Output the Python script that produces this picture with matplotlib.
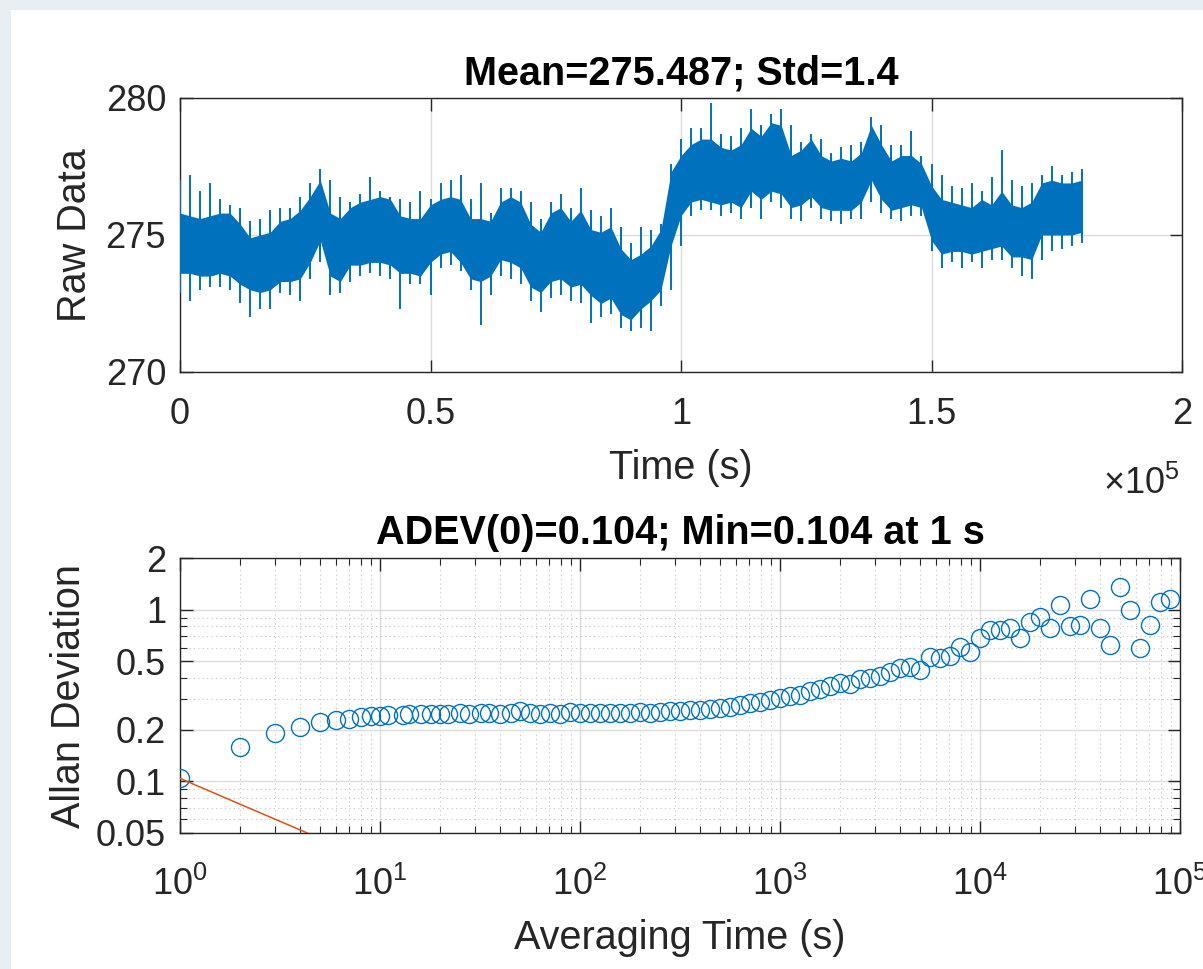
import matplotlib
matplotlib.use("Agg")
import matplotlib.pyplot as plt
import numpy as np
from matplotlib.patches import Rectangle
from matplotlib.ticker import FixedLocator, FixedFormatter, NullFormatter

plt.rcParams['font.family'] = ['Liberation Sans', 'DejaVu Sans']
plt.rcParams['mathtext.fontset'] = 'custom'
plt.rcParams['mathtext.rm'] = 'Liberation Sans'
plt.rcParams['mathtext.it'] = 'Liberation Sans:italic'
plt.rcParams['mathtext.bf'] = 'Liberation Sans:bold'

# ---------------- data: raw time series envelope (sampled every 2000 s) ----------------
time_ks = list(range(0, 182, 2))  # kiloseconds
core_hi = [275.8, 275.7, 275.6, 275.7, 275.8, 275.8, 275.4, 274.9, 275.0, 275.1, 275.5, 275.6,
           275.9, 276.4, 277.0, 275.8, 275.6, 276.0, 276.2, 276.3, 276.4, 276.3, 275.7,
           275.6, 275.6, 276.1, 276.3, 276.4, 276.3, 275.6, 275.6, 275.5, 276.2, 276.4, 276.2,
           275.4, 275.1, 275.8, 276.0, 275.5, 275.9, 275.2, 275.1, 275.3, 274.5, 274.1,
           274.3, 274.6, 275.2, 277.3, 277.9, 278.3, 278.5, 278.5, 278.2, 278.1, 278.3, 278.9,
           278.6, 279.1, 279.0, 277.9, 278.1, 278.5, 277.9, 277.7, 277.8, 277.7,
           278.0, 279.0, 278.3, 277.7, 277.9, 277.9, 277.6, 276.8, 276.3, 276.2, 276.1, 276.0,
           276.3, 276.1, 276.6, 276.1, 276.0, 276.2, 276.9, 277.0, 276.9, 276.9, 277.0]
core_lo = [273.6, 273.6, 273.5, 273.5, 273.6, 273.5, 273.2, 273.0, 272.9, 273.0, 273.3, 273.3,
           273.4, 274.0, 274.8, 273.5, 273.3, 273.9, 273.9, 274.0, 274.0, 273.9, 273.6,
           273.6, 273.5, 274.0, 274.3, 274.4, 274.0, 273.4, 273.3, 273.5, 274.1, 274.0, 273.8,
           273.1, 272.9, 273.3, 273.4, 273.1, 273.2, 272.8, 272.5, 272.7, 272.1, 271.9,
           272.3, 272.6, 273.0, 274.6, 275.7, 276.2, 276.3, 276.2, 276.1, 276.2, 276.0, 276.6,
           276.3, 276.6, 276.5, 276.0, 276.1, 276.4, 276.0, 275.9, 275.9, 275.9,
           276.2, 277.0, 276.3, 275.9, 276.0, 276.1, 276.0, 274.8, 274.3, 274.4, 274.4, 274.3,
           274.4, 274.5, 274.6, 274.2, 274.2, 274.1, 275.0, 275.0, 275.0, 275.0, 275.1]
spike_hi = [277.0, 277.2, 276.6, 276.9, 276.3, 276.1, 276.0, 275.5, 275.6, 275.9, 276.0, 276.0,
            276.4, 276.9, 277.4, 276.0, 276.4, 276.2, 276.5, 277.1, 276.6, 276.4, 276.0,
            276.2, 276.6, 276.3, 276.9, 277.0, 277.2, 276.0, 276.9, 275.8, 276.7, 276.7, 276.6,
            275.9, 275.6, 276.2, 276.5, 275.9, 276.7, 275.6, 275.7, 276.0, 275.3, 274.7,
            275.3, 275.2, 275.4, 277.6, 278.5, 278.9, 278.9, 279.8, 278.7, 278.6, 278.9, 279.6,
            279.0, 279.4, 279.6, 278.5, 278.4, 278.7, 278.3, 278.0, 278.2, 278.3,
            278.4, 279.3, 278.5, 278.0, 278.3, 278.8, 277.9, 277.3, 277.2, 276.8, 276.7, 276.9,
            276.6, 277.1, 278.1, 277.0, 276.8, 276.9, 277.2, 277.5, 277.2, 277.3, 277.4]
spike_lo = [272.9, 272.6, 273.0, 273.1, 273.1, 273.0, 272.5, 272.0, 272.3, 272.3, 272.9, 272.8,
            272.6, 273.5, 274.2, 272.8, 272.9, 273.4, 273.5, 273.6, 273.5, 273.4, 272.3,
            273.2, 273.2, 272.8, 273.8, 273.9, 273.7, 273.0, 271.7, 272.8, 273.6, 273.4, 273.2,
            272.6, 272.2, 272.7, 272.8, 272.6, 272.5, 271.8, 272.0, 272.1, 271.6, 271.5,
            271.6, 271.5, 272.4, 274.0, 275.3, 275.8, 275.9, 275.9, 275.7, 275.8, 275.6, 276.1,
            275.6, 276.2, 276.0, 275.6, 275.5, 276.0, 275.6, 275.5, 275.4, 275.6,
            275.6, 276.3, 275.8, 275.6, 275.5, 275.7, 275.7, 274.4, 273.8, 274.0, 273.8, 274.0,
            273.8, 274.1, 274.1, 273.8, 273.5, 273.4, 274.6, 274.4, 274.5, 274.6, 274.7]

# ---------------- data: Allan deviation ----------------
tau = [1, 2, 3, 4, 5, 6, 7, 8, 9, 10,
       11, 13, 14, 16, 18, 20, 22, 25, 28, 32, 35, 40, 45, 50, 56, 63, 71, 79, 89, 100,
       112, 126, 141, 158, 178, 200, 224, 251, 282, 316, 355, 398, 447, 501, 562, 631, 708, 794, 891, 1000,
       1122, 1259, 1413, 1585, 1778, 1995, 2239, 2512, 2818, 3162, 3548, 3981, 4467, 5012, 5623, 6310,
       7079, 7943, 8913, 10000,
       11220, 12589, 14125, 15849, 17783, 19953, 22387, 25119, 28184, 31623, 35481, 39811, 44668,
       50119, 56234, 63096, 70795, 79433, 89125]
adev = [0.104, 0.158, 0.192, 0.206, 0.221, 0.227, 0.231, 0.236, 0.239, 0.241,
        0.243, 0.244, 0.246, 0.247, 0.247, 0.248, 0.248, 0.249, 0.248, 0.249, 0.249, 0.248, 0.249,
        0.256, 0.249, 0.248, 0.249, 0.247, 0.254, 0.250,
        0.249, 0.249, 0.250, 0.250, 0.251, 0.252, 0.251, 0.254, 0.256, 0.256, 0.262, 0.262, 0.265,
        0.268, 0.272, 0.279, 0.286, 0.291, 0.297, 0.304,
        0.315, 0.320, 0.335, 0.345, 0.360, 0.375, 0.370, 0.395, 0.400, 0.410, 0.435, 0.455, 0.465,
        0.445, 0.530, 0.520, 0.535, 0.610, 0.570, 0.680,
        0.760, 0.760, 0.780, 0.680, 0.850, 0.910, 0.780, 1.060, 0.800, 0.810, 1.160, 0.780, 0.620,
        1.360, 1.000, 0.600, 0.810, 1.110, 1.160]
adev0 = 0.104

title_top = "Mean=275.487; Std=1.4"
title_bot = "ADEV(0)=0.104; Min=0.104 at 1 s"

BLUE = '#0072BD'
ORANGE = '#D95319'
AXC = '#262626'
GRIDC = '#DCDCDC'

W, H = 1203, 969
fig = plt.figure(figsize=(W / 100, H / 100), dpi=100)
fig.patch.set_facecolor('#E9EEF5')
fig.patches.append(Rectangle((11 / W, 0), 1 - 11 / W, 1 - 10 / H, transform=fig.transFigure,
                             facecolor='white', edgecolor='none', zorder=-10))

TICK_FS = 26
LAB_FS = 28.5


def style_axes(ax):
    for s in ax.spines.values():
        s.set_color(AXC)
        s.set_linewidth(1.0)
    ax.tick_params(which='both', direction='in', top=True, right=True, colors=AXC,
                   labelsize=TICK_FS, labelcolor=AXC)
    ax.tick_params(which='major', length=9, width=1.0)
    ax.tick_params(which='minor', length=5, width=0.8)


# ---------------- top axes ----------------
ax1 = fig.add_axes([180 / W, 1 - 372 / H, 1002 / W, 274 / H])
t_s = np.array(time_ks) * 1000.0
ax1.fill_between(t_s, core_lo, core_hi, color=BLUE, lw=0, zorder=3)
ax1.vlines(t_s, spike_lo, spike_hi, color=BLUE, lw=1.4, zorder=3)
ax1.vlines(t_s[1:], core_lo[:-1], core_hi[:-1], color=BLUE, lw=1.4, zorder=3)
ax1.set_xlim(0, 2e5)
ax1.set_ylim(270, 280)
ax1.set_xticks([0, 0.5e5, 1e5, 1.5e5, 2e5])
ax1.set_xticklabels(['0', '0.5', '1', '1.5', '2'])
ax1.set_yticks([270, 275, 280])
ax1.grid(True, which='major', color=GRIDC, lw=1.0, zorder=0)
ax1.set_axisbelow(True)
style_axes(ax1)
ax1.tick_params(axis='x', pad=18)
ax1.tick_params(axis='y', pad=10)
ax1.set_xlabel('Time (s)', fontsize=LAB_FS, color=AXC, labelpad=12)
ax1.set_ylabel('Raw Data', fontsize=LAB_FS, color=AXC, labelpad=8)
ax1.set_title(title_top, fontsize=LAB_FS, fontweight='bold', color='black', pad=10)
ax1.text(0.998, -0.41, r'$\times10^{5}$', transform=ax1.transAxes, ha='right', va='center',
         fontsize=TICK_FS, color=AXC)

# ---------------- bottom axes ----------------
ax2 = fig.add_axes([180 / W, 1 - 833 / H, 1000 / W, 275 / H])
ax2.set_xscale('log')
ax2.set_yscale('log')
ax2.plot(tau, adev, linestyle='none', marker='o', markersize=13, markerfacecolor='none',
         markeredgecolor=BLUE, markeredgewidth=1.0, zorder=3)
ax2.plot(tau, [adev0 / np.sqrt(x) for x in tau], color=ORANGE, lw=1.1, zorder=3)
ax2.set_xlim(1, 1e5)
ax2.set_ylim(0.05, 2)
ax2.xaxis.set_major_locator(FixedLocator([1, 10, 100, 1e3, 1e4, 1e5]))
ax2.xaxis.set_major_formatter(FixedFormatter([r'$10^{0}$', r'$10^{1}$', r'$10^{2}$',
                                              r'$10^{3}$', r'$10^{4}$', r'$10^{5}$']))
xminor = [m * 10 ** k for k in range(0, 5) for m in range(2, 10)]
ax2.xaxis.set_minor_locator(FixedLocator(xminor))
ax2.xaxis.set_minor_formatter(NullFormatter())
ax2.yaxis.set_major_locator(FixedLocator([0.05, 0.1, 0.2, 0.5, 1, 2]))
ax2.yaxis.set_major_formatter(FixedFormatter(['0.05', '0.1', '0.2', '0.5', '1', '2']))
ax2.yaxis.set_minor_locator(FixedLocator([0.06, 0.07, 0.08, 0.09, 0.3, 0.4, 0.6, 0.7, 0.8, 0.9]))
ax2.yaxis.set_minor_formatter(NullFormatter())
ax2.grid(True, which='major', color=GRIDC, lw=1.0, zorder=0)
ax2.grid(True, which='minor', color='#C4C4C4', lw=0.8, linestyle=(0, (1, 3)), zorder=0)
ax2.set_axisbelow(True)
style_axes(ax2)
ax2.tick_params(axis='x', pad=24)
ax2.tick_params(axis='y', pad=10)
ax2.set_xlabel('Averaging Time (s)', fontsize=LAB_FS, color=AXC, labelpad=12)
ax2.set_ylabel('Allan Deviation', fontsize=LAB_FS, color=AXC, labelpad=6)
ax2.set_title(title_bot, fontsize=LAB_FS, fontweight='bold', color='black', pad=10)

fig.savefig('out.png', dpi=100, facecolor=fig.get_facecolor())
